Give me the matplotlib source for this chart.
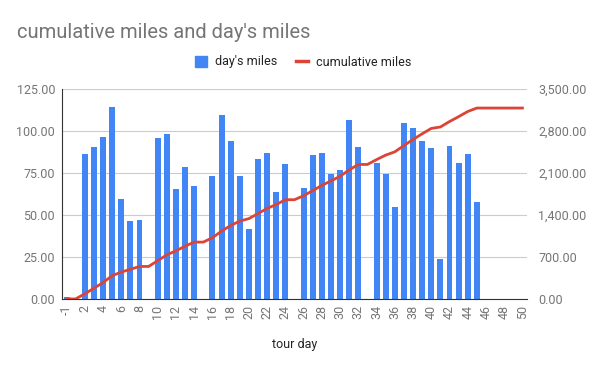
import matplotlib.pyplot as plt
import numpy as np
from matplotlib.ticker import FuncFormatter
from matplotlib.lines import Line2D
from matplotlib.patches import Patch

plt.rcParams['font.family'] = ['Roboto', 'DejaVu Sans']

# tour day categories
days = [-1] + list(range(1, 51))

# miles per day
day_miles = [1.2, 0, 86.3, 90.7, 96.4, 114.3, 59.7, 46.6, 47.2, 0,
             95.8, 98.4, 65.7, 78.6, 67.5, 0,
             73.2, 109.7, 94.0, 73.2, 41.7, 83.3, 87.1, 63.7, 80.6, 0,
             66.1, 85.7, 87.1, 74.4, 77.0, 106.7, 90.5, 0,
             81.0, 74.4, 54.8, 104.8, 101.8, 94.0, 89.9, 23.8, 90.9, 81.0, 86.3, 57.5,
             0, 0, 0, 0, 0]

# running total
cum_miles = [1.2, 1.2, 87.5, 178.2, 274.6, 388.9, 448.6, 495.2, 542.4, 542.4,
             638.2, 736.6, 802.3, 880.9, 948.4, 948.4,
             1021.6, 1131.3, 1225.3, 1298.5, 1340.2, 1423.5, 1510.6, 1574.3, 1654.9, 1654.9,
             1721.0, 1806.7, 1893.8, 1968.2, 2045.2, 2151.9, 2242.4, 2242.4,
             2323.4, 2397.8, 2452.6, 2557.4, 2659.2, 2753.2, 2843.1, 2866.9, 2957.8,
             3038.8, 3125.1, 3182.6,
             3182.6, 3182.6, 3182.6, 3182.6, 3182.6]

blue = '#4285F4'
red = '#DB4437'
gray = '#757575'

fig = plt.figure(figsize=(6, 3.71), dpi=100)
ax = fig.add_axes([62/600, 1 - 299/371, 465/600, 210/371])
ax2 = ax.twinx()

x = np.arange(len(days))
ax.bar(x, day_miles, width=0.65, color=blue, zorder=2)
ax2.plot(x, cum_miles, color=red, lw=2, zorder=3)

ax.set_xlim(-0.5, len(days) - 0.5)
ax.set_ylim(0, 125)
ax2.set_ylim(0, 3500)
ax.set_yticks(np.arange(0, 126, 25))
ax2.set_yticks(np.arange(0, 3501, 700))
ax.yaxis.set_major_formatter(FuncFormatter(lambda v, p: f'{v:.2f}'))
ax2.yaxis.set_major_formatter(FuncFormatter(lambda v, p: f'{v:,.2f}'))

ax.set_xticks(x[::2])
ax.set_xticklabels([str(d) for d in days[::2]], rotation=90)

ax.grid(axis='y', color='#cccccc', lw=0.8, zorder=0)
ax.set_axisbelow(True)
for a in (ax, ax2):
    a.spines['top'].set_visible(False)
    a.spines['right'].set_visible(False)
    a.tick_params(length=0, labelsize=9, colors=gray)
ax2.spines['left'].set_visible(False)
ax2.spines['bottom'].set_visible(False)
ax.spines['left'].set_color('#333333')
ax.spines['bottom'].set_color('#333333')
ax.tick_params(axis='y', pad=5)
ax2.tick_params(axis='y', pad=8)
ax.tick_params(axis='x', pad=4)

ax.set_xlabel('tour day', fontsize=9, color='#222222', labelpad=14)

fig.text(17/600, 1 - 32/371, "cumulative miles and day's miles", fontsize=14.5,
         color=gray, va='center', ha='left')

handles = [Patch(color=blue), Line2D([0], [0], color=red, lw=2.5)]
fig.legend(handles, ["day's miles", 'cumulative miles'], loc='center',
           bbox_to_anchor=(0.505, 1 - 62/371), ncol=2, frameon=False, fontsize=9,
           handlelength=1.0, handleheight=1.0, columnspacing=1.5, handletextpad=0.6,
           labelcolor='#222222')

fig.savefig('out.png', dpi=100)
